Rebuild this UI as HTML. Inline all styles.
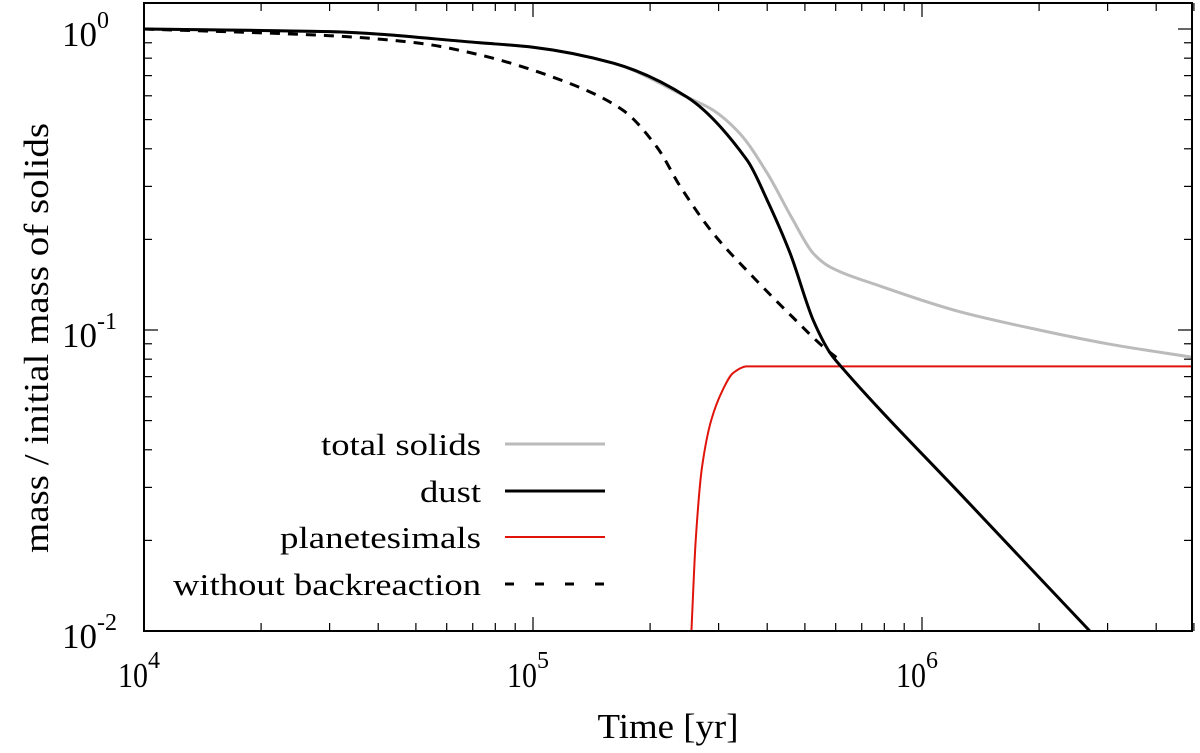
<!DOCTYPE html>
<html><head><meta charset="utf-8"><style>
body{margin:0;background:#fff}
svg{display:block;font-family:"Liberation Serif",serif}
</style></head><body>
<svg id="chart" width="1200" height="753" xmlns="http://www.w3.org/2000/svg">
<g id="ticks"></g>
<g id="lines"></g>
<rect x="144" y="3" width="1048" height="628" fill="none" stroke="#000" stroke-width="2"/>
<text transform="translate(48,338) rotate(-90)" text-anchor="middle" font-size="35" textLength="430" lengthAdjust="spacingAndGlyphs">mass / initial mass of solids</text>
<text x="668" y="738" text-anchor="middle" font-size="35" textLength="141" lengthAdjust="spacingAndGlyphs">Time [yr]</text>
<g font-size="31" text-anchor="end">
<text x="481" y="455" textLength="160" lengthAdjust="spacingAndGlyphs">total solids</text>
<line x1="505" y1="444" x2="605" y2="444" stroke="#bbb" stroke-width="3"/>
<text x="481" y="502" textLength="61" lengthAdjust="spacingAndGlyphs">dust</text>
<line x1="505" y1="491" x2="605" y2="491" stroke="#000" stroke-width="3"/>
<text x="481" y="548" textLength="201" lengthAdjust="spacingAndGlyphs">planetesimals</text>
<line x1="505" y1="537" x2="605" y2="537" stroke="#e0140a" stroke-width="2"/>
<text x="481" y="595" textLength="308" lengthAdjust="spacingAndGlyphs">without backreaction</text>
<line x1="505" y1="584" x2="605" y2="584" stroke="#000" stroke-width="3" stroke-dasharray="9,21"/>
</g>
</svg>
<script>
const totalT=[1e4,3e4,7.3e4,1e5,1.61e5,2.49e5,2.9e5,3.4e5,4.0e5,4.66e5,5.25e5,5.8e5,7.8e5,1.25e6,2e6,3e6,5e6];
const totalV=[1.0,0.98,0.90,0.87,0.77,0.594,0.538,0.45,0.332,0.232,0.180,0.162,0.140,0.115,0.100,0.090,0.081];
const dustT=[1e4,3e4,7.3e4,1e5,1.61e5,2.49e5,3.55e5,4.0e5,4.58e5,5.25e5,5.8e5,6.15e5,1.3e6,2.7e6,5e6];
const dustV=[1.0,0.98,0.90,0.87,0.77,0.594,0.367,0.270,0.180,0.108,0.084,0.0764,0.0272,0.01,0.0043];
const planT=[2.55e5,2.62e5,2.72e5,2.87e5,3.07e5,3.27e5,3.55e5,5e6];
const planV=[0.0095,0.02,0.035,0.050,0.063,0.072,0.0757,0.0757];
const nobrT=[1e4,3e4,5e4,7.3e4,1.24e5,1.7e5,2.08e5,2.39e5,2.9e5,3.68e5,4.66e5,5.57e5,6.1e5];
const nobrV=[1.0,0.95,0.90,0.82,0.66,0.538,0.406,0.30,0.21,0.150,0.110,0.088,0.080];
const xTickLabels=["4","5","6"];
const yTickLabels=["0","-1","-2"];
const NS="http://www.w3.org/2000/svg";
const X0=144,X1=1192,Y0=3,Y1=631;
function xs(t){return X0+(Math.log10(t)-4)*389;}
function ys(v){return 631-(Math.log10(v)+2)*301;}
const tk=document.getElementById('ticks'),ln=document.getElementById('lines');
function mk(tag,a,p){const e=document.createElementNS(NS,tag);for(const k in a)e.setAttribute(k,a[k]);p.appendChild(e);return e;}
const cp=mk('clipPath',{id:'pc'},document.getElementById('chart'));
mk('rect',{x:X0,y:Y0,width:X1-X0,height:Y1-Y0},cp);
ln.setAttribute('clip-path','url(#pc)');
for(let d=4;d<=6;d++){for(let m=1;m<10;m++){const t=m*Math.pow(10,d);if(t>5e6)break;const x=xs(t);const L=m==1?14:8;
const a=mk('line',{x1:x,y1:Y1,x2:x,y2:Y1-L,stroke:'#000','stroke-width':1.2},tk);


const b=mk('line',{x1:x,y1:Y0,x2:x,y2:Y0+L,stroke:'#000','stroke-width':1.2},tk);

}}
xTickLabels.forEach(s=>{const x=xs(Math.pow(10,+s));
const t=mk('text',{x:x-11,y:687,'text-anchor':'middle','font-size':35,textLength:30,lengthAdjust:'spacingAndGlyphs'},tk);t.textContent='10';


const sp=mk('text',{x:x+4,y:668,'text-anchor':'start','font-size':24},tk);sp.textContent=s;

});
for(let d=-2;d<=0;d++){for(let m=1;m<10;m++){const v=m*Math.pow(10,d);if(v>1.2)break;const y=ys(v);const L=m==1?14:8;
const a=mk('line',{x1:X0,y1:y,x2:X0+L,y2:y,stroke:'#000','stroke-width':1.2},tk);


const b=mk('line',{x1:X1,y1:y,x2:X1-L,y2:y,stroke:'#000','stroke-width':1.2},tk);

}}
yTickLabels.forEach(s=>{const y=ys(Math.pow(10,+s));
const t=mk('text',{x:97,y:y+17,'text-anchor':'end','font-size':35},tk);t.textContent='10';


const sp=mk('text',{x:97,y:y-1,'text-anchor':'start','font-size':24},tk);sp.textContent=s;

});
function path(T,V,st,name){
const X=T.map(xs),Y=V.map(ys),n=X.length;
const dl=[],m=[];
for(let i=0;i<n-1;i++)dl.push((Y[i+1]-Y[i])/(X[i+1]-X[i]));
m[0]=dl[0];m[n-1]=dl[n-2];
for(let i=1;i<n-1;i++){m[i]=(dl[i-1]*dl[i]<=0)?0:(2/(1/dl[i-1]+1/dl[i]));}
let d='M'+X[0].toFixed(1)+','+Y[0].toFixed(1);
for(let i=0;i<n-1;i++){const h=X[i+1]-X[i];
d+='C'+(X[i]+h/3).toFixed(1)+','+(Y[i]+m[i]*h/3).toFixed(1)+' '+(X[i+1]-h/3).toFixed(1)+','+(Y[i+1]-m[i+1]*h/3).toFixed(1)+' '+X[i+1].toFixed(1)+','+Y[i+1].toFixed(1);}
const p=mk('path',Object.assign({d:d,fill:'none','stroke-linejoin':'round'},st),ln);

}
path(totalT,totalV,{stroke:'#bbb','stroke-width':3},'total-solids-line');
path(nobrT,nobrV,{stroke:'#000','stroke-width':3,'stroke-dasharray':'10,8'},'without-backreaction-line');
path(planT,planV,{stroke:'#e0140a','stroke-width':2},'planetesimals-line');
path(dustT,dustV,{stroke:'#000','stroke-width':3},'dust-line');
</script>
</body></html>
